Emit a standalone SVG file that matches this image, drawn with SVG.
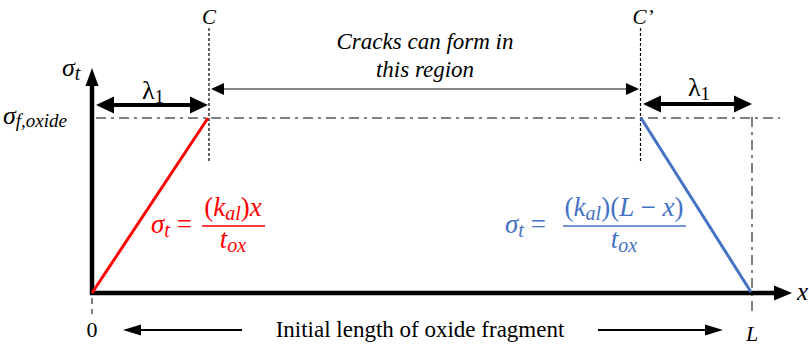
<svg xmlns="http://www.w3.org/2000/svg" width="809" height="345" viewBox="0 0 809 345">
<rect width="809" height="345" fill="#fff"/>
<g id="guides" stroke="#808080" stroke-width="2" fill="none">
<line stroke-dasharray="10 5 3 5" x1="96" y1="118" x2="780" y2="118"/>
<line stroke-dasharray="10 5 3 5" x1="752" y1="117" x2="752" y2="316"/>
<line x1="92" y1="298" x2="92" y2="314" stroke-dasharray="6 5"/>
<line stroke="#000" stroke-width="1.2" stroke-dasharray="3 2" x1="209" y1="28" x2="209" y2="162"/>
<line stroke="#000" stroke-width="1.2" stroke-dasharray="3 2" x1="640.5" y1="28" x2="640.5" y2="162"/>
</g>
<g id="axes">
<line x1="92" y1="295" x2="92" y2="84" stroke="#000" stroke-width="4.5"/>
<polygon points="92,68 85.5,86 98.5,86" fill="#000"/>
<line x1="90" y1="293" x2="776" y2="293" stroke="#000" stroke-width="4.5"/>
<polygon points="792,293 774,285.5 774,300.5" fill="#000"/>
<text font-family="Liberation Serif, Times New Roman, DejaVu Serif, serif" font-style="italic" x="797" y="300" font-size="25">x</text>
<text font-family="Liberation Serif, Times New Roman, DejaVu Serif, serif" font-style="italic" x="62" y="76" font-size="26">σ<tspan font-size="20" dy="4">t</tspan></text>
<text font-family="Liberation Serif, Times New Roman, DejaVu Serif, serif" font-style="italic" x="3" y="124" font-size="26">σ<tspan font-size="19" dy="3">f,oxide</tspan></text>
</g>
<g id="curves">
<line x1="92" y1="293" x2="208" y2="118" stroke="#ff0000" stroke-width="3"/>
<line x1="641" y1="118" x2="751" y2="292" stroke="#4472c4" stroke-width="3"/>
</g>
<g id="connectors">
<line x1="112" y1="105" x2="191" y2="105" stroke="#000" stroke-width="4"/>
<polygon points="96,105 114,96.5 114,113.5" fill="#000"/>
<polygon points="208,105 190,96.5 190,113.5" fill="#000"/>
<line x1="659" y1="104" x2="736" y2="104" stroke="#000" stroke-width="4"/>
<polygon points="643,104 661,95.5 661,112.5" fill="#000"/>
<polygon points="752,104 734,95.5 734,112.5" fill="#000"/>
<line x1="222" y1="89" x2="628" y2="89" stroke="#606060" stroke-width="1.3"/>
<polygon points="211,89 224,83 224,95" fill="#000"/>
<polygon points="639,89 626,83 626,95" fill="#000"/>
<line x1="138" y1="330" x2="242" y2="330" stroke="#000" stroke-width="2"/>
<polygon points="123,330 141,324.5 141,335.5" fill="#000"/>
<line x1="598" y1="330" x2="708" y2="330" stroke="#000" stroke-width="2"/>
<polygon points="723,330 705,324.5 705,335.5" fill="#000"/>
</g>
<g id="labels">
<text font-family="Liberation Serif, Times New Roman, DejaVu Serif, serif" x="142" y="99" font-size="26">λ<tspan font-size="19" dy="4">1</tspan></text>
<text font-family="Liberation Serif, Times New Roman, DejaVu Serif, serif" x="688" y="96" font-size="26">λ<tspan font-size="19" dy="4">1</tspan></text>
<text font-family="Liberation Serif, Times New Roman, DejaVu Serif, serif" font-style="italic" x="209" y="24" font-size="21" text-anchor="middle">C</text>
<text font-family="Liberation Serif, Times New Roman, DejaVu Serif, serif" font-style="italic" x="643" y="24" font-size="21" text-anchor="middle">C’</text>
<text font-family="Liberation Serif, Times New Roman, DejaVu Serif, serif" font-style="italic" x="425" y="49" font-size="23" text-anchor="middle">Cracks can form in</text>
<text font-family="Liberation Serif, Times New Roman, DejaVu Serif, serif" font-style="italic" x="425" y="77" font-size="23" text-anchor="middle">this region</text>
<text font-family="Liberation Serif, Times New Roman, DejaVu Serif, serif" x="92" y="337" font-size="22" text-anchor="middle">0</text>
<text font-family="Liberation Serif, Times New Roman, DejaVu Serif, serif" font-style="italic" x="752" y="341" font-size="22" text-anchor="middle">L</text>
<text font-family="Liberation Serif, Times New Roman, DejaVu Serif, serif" x="420" y="337" font-size="23" text-anchor="middle">Initial length of oxide fragment</text>
</g>
<g id="eq-red" fill="#ff0000">
<text font-family="Liberation Serif, Times New Roman, DejaVu Serif, serif" font-style="italic" x="151" y="233" font-size="27">σ<tspan font-size="20" dy="4">t</tspan><tspan dy="-4" font-style="normal"> = </tspan></text>
<text font-family="Liberation Serif, Times New Roman, DejaVu Serif, serif" font-style="italic" x="233" y="216" font-size="27" text-anchor="middle"><tspan font-style="normal">(</tspan>k<tspan font-size="20" dy="4">al</tspan><tspan dy="-4" font-style="normal">)</tspan>x</text>
<line x1="202" y1="226" x2="265" y2="226" stroke="#ff0000" stroke-width="1.5"/>
<text font-family="Liberation Serif, Times New Roman, DejaVu Serif, serif" font-style="italic" x="233" y="248" font-size="27" text-anchor="middle">t<tspan font-size="20" dy="4">ox</tspan></text>
</g>
<g id="eq-blue" fill="#4472c4">
<text font-family="Liberation Serif, Times New Roman, DejaVu Serif, serif" font-style="italic" x="505" y="233" font-size="27">σ<tspan font-size="20" dy="4">t</tspan><tspan dy="-4" font-style="normal"> = </tspan></text>
<text font-family="Liberation Serif, Times New Roman, DejaVu Serif, serif" font-style="italic" x="624" y="216" font-size="27" text-anchor="middle"><tspan font-style="normal">(</tspan>k<tspan font-size="20" dy="4">al</tspan><tspan dy="-4" font-style="normal">)(</tspan>L <tspan font-style="normal">−</tspan> x<tspan font-style="normal">)</tspan></text>
<line x1="563" y1="226" x2="686" y2="226" stroke="#4472c4" stroke-width="1.5"/>
<text font-family="Liberation Serif, Times New Roman, DejaVu Serif, serif" font-style="italic" x="624" y="248" font-size="27" text-anchor="middle">t<tspan font-size="20" dy="4">ox</tspan></text>
</g>
</svg>
